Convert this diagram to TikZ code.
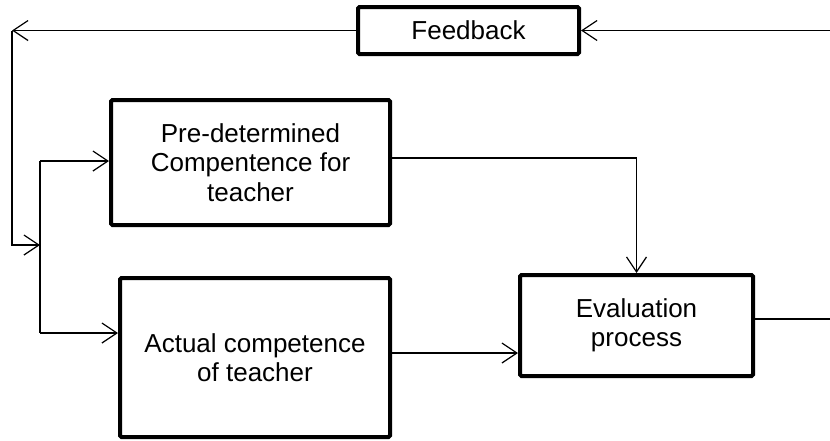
\documentclass[tikz,border=0pt]{standalone}
\usepackage{fontspec}
\setmainfont{Liberation Sans}
\usetikzlibrary{arrows.meta}
\begin{document}
\begin{tikzpicture}[x=1pt,y=-1pt,
  box/.style={draw, line width=4pt, rounded corners=1.5pt, inner sep=0pt, align=center,
    font=\fontsize{26}{29.5}\selectfont},
  conn/.style={line width=1.2pt},
  arr/.style={conn, -{Straight Barb[length=15pt,width=20pt,line width=1.2pt]}}]
\useasboundingbox (0,0) rectangle (830,440);
\node[box, minimum width=221pt, minimum height=47pt] (fb) at (468.5,30.5) {Feedback};
\node[box, minimum width=279pt, minimum height=125pt] (pre) at (250.5,162.5) {Pre-determined\\Compentence for\\teacher};
\node[box, minimum width=270pt, minimum height=159pt] (act) at (255,357.5) {Actual competence\\of teacher};
\node[box, minimum width=233pt, minimum height=101pt] (ev) at (636.5,325.5) {Evaluation\\process};
\coordinate (fbl) at (12,30.5);
\coordinate (split) at (40,245);
\coordinate (t1) at (40,161);
\coordinate (t2) at (40,333);
\coordinate (p1) at (390,158);
\coordinate (a1) at (390,353);
\coordinate (r1) at (830,319);
\coordinate (r2) at (830,30.5);
\draw[arr] (fb.west) -- (fbl);
\draw[arr] (fbl) |- (split);
\draw[conn] (t1) -- (t2);
\draw[arr] (t1) -- (t1 -| pre.west);
\draw[arr] (t2) -- (t2 -| act.west);
\draw[arr] (p1) -| (ev.north);
\draw[arr] (a1) -- (a1 -| ev.west);
\draw[conn] (ev.east |- r1) -- (r1);
\draw[arr] (r2) -- (fb.east);
\end{tikzpicture}
\end{document}
